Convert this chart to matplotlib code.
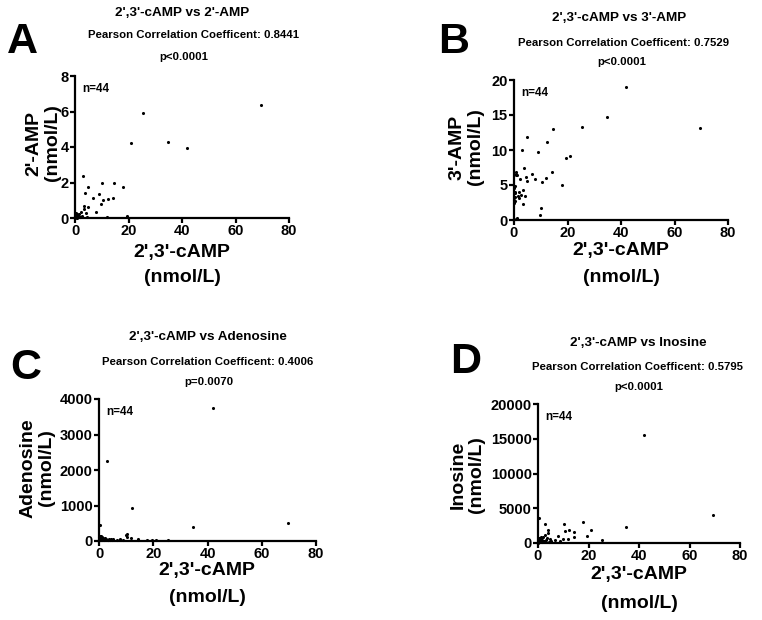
import matplotlib
matplotlib.use("Agg")
import matplotlib.pyplot as plt

plt.rcParams['font.family'] = ['Liberation Sans', 'DejaVu Sans']
plt.rcParams['font.weight'] = 'bold'

# 2',3'-cAMP (nmol/L), same 44 samples in every panel
camp = [69.5, 42.0, 34.8, 25.4, 21.0, 19.5, 17.8, 14.4, 14.2, 12.2, 11.8,
        10.5, 10.2, 9.9, 8.9, 7.8, 6.6, 5.0, 4.7, 4.4, 4.0, 3.8, 3.5, 3.3,
        2.9, 2.6, 2.3, 2.0, 1.7, 1.4, 1.2, 1.0, 0.9, 0.8, 0.7, 0.6, 0.5,
        0.4, 0.3, 0.25, 0.2, 0.15, 0.1, 0.05]

amp2 = [6.35, 3.97, 4.3, 5.9, 4.2, 0.1, 1.74, 1.99, 1.1, 1.06, 0.05,
        1.02, 1.99, 0.78, 1.36, 0.33, 1.1, 0.61, 1.77, 0.05, 0.28, 1.39, 0.52, 0.7,
        2.36, 0.1, 0.32, 0.05, 0.08, 0.2, 0.05, 0.15, 0.1, 0.02, 0.25, 0.05, 0.12,
        0.3, 0.05, 0.18, 0.08, 0.02, 0.1, 0.05]

amp3 = [13.1, 18.95, 14.76, 13.3, 9.1, 8.8, 5.0, 12.95, 6.8, 11.2, 5.95,
        5.5, 1.67, 0.71, 9.7, 5.9, 6.6, 11.8, 5.6, 6.2, 3.4, 7.4, 2.3, 4.3,
        10.0, 3.6, 5.8, 3.2, 4.0, 3.5, 6.5, 0.3, 6.8, 6.6, 0.15, 6.4, 4.9,
        2.7, 3.3, 4.0, 3.8, 2.4, 4.6, 2.9]

adenosine = [510, 3750, 390, 30, 20, 40, 15, 60, 20, 940, 80,
             120, 200, 160, 30, 50, 40, 60, 20, 50, 30, 60, 40, 20,
             2240, 50, 80, 30, 60, 90, 40, 110, 20, 70, 50, 130, 30,
             450, 80, 150, 60, 20, 100, 40]

inosine = [4065, 15550, 2300, 380, 1820, 960, 3015, 810, 1580, 1910, 575,
           1670, 2775, 575, 240, 960, 480, 300, 600, 200, 1910, 1435, 700, 400,
           2775, 1100, 300, 800, 500, 200, 650, 900, 350, 100, 600, 250, 450,
           3590, 150, 700, 300, 50, 500, 200]

panels = [
    # letter, y data, y name, y max, y step, title, r, p
    ("A", amp2, "2'-AMP", 8, 2, "2',3'-cAMP vs 2'-AMP", "0.8441", "p<0.0001"),
    ("B", amp3, "3'-AMP", 20, 5, "2',3'-cAMP vs 3'-AMP", "0.7529", "p<0.0001"),
    ("C", adenosine, "Adenosine", 4000, 1000, "2',3'-cAMP vs Adenosine", "0.4006", "p=0.0070"),
    ("D", inosine, "Inosine", 20000, 5000, "2',3'-cAMP vs Inosine", "0.5795", "p<0.0001"),
]

W, H = 762.0, 620.0

# axes box in pixels: left, top, right, bottom
boxes = [(75, 76, 289, 218), (514, 80, 728, 220), (99, 399, 316, 541), (538, 404, 740, 543)]
# text anchors in pixels
letter_pos = [(7, 22), (438, 22), (10, 348), (450, 342)]
title_y = [(182, 13, 194, 35, 184, 57), (619, 18, 624, 43, 622, 62),
           (208, 337, 208, 362, 209, 382), (638, 343, 638, 367, 639, 387)]
xlab_y = [(182, 253, 277), (621, 251, 277), (207, 570, 598), (639, 575, 604)]
ylab_x = [(43, 143), (466, 147), (37, 468), (467, 475)]


def fx(x):
    return x / W


def fy(y):
    return 1 - y / H


fig = plt.figure(figsize=(W / 100, H / 100), dpi=100)

for i, (letter, ydata, yname, ymax, ystep, title, r, p) in enumerate(panels):
    l, t, rr, b = boxes[i]
    ax = fig.add_axes([fx(l), fy(b), (rr - l) / W, (b - t) / H])
    ax.scatter(camp, ydata, s=5, c='black', linewidths=0, clip_on=False, zorder=3)
    ax.set_xlim(0, 80)
    ax.set_ylim(0, ymax)
    ax.set_xticks([0, 20, 40, 60, 80])
    ax.set_yticks(list(range(0, ymax + 1, ystep)))
    ax.spines['right'].set_visible(False)
    ax.spines['top'].set_visible(False)
    for s in ['left', 'bottom']:
        ax.spines[s].set_linewidth(1.6)
    ax.tick_params(axis='both', direction='out', length=3.5, width=1.6, labelsize=10.5, pad=1)
    for lab in ax.get_xticklabels() + ax.get_yticklabels():
        lab.set_fontweight('bold')
    ax.text(0.035, 0.95, "n=44", transform=ax.transAxes, fontsize=8.5,
            fontweight='bold', ha='left', va='top')

    lx, ly = letter_pos[i]
    fig.text(fx(lx), fy(ly), letter, fontsize=31, fontweight='bold', ha='left', va='top')

    tx, ty, px_, py_, qx, qy = title_y[i]
    fig.text(fx(tx), fy(ty), title, fontsize=9.7, fontweight='bold', ha='center', va='center')
    fig.text(fx(px_), fy(py_), "Pearson Correlation Coefficent: " + r, fontsize=8.2,
             fontweight='bold', ha='center', va='center')
    fig.text(fx(qx), fy(qy), p, fontsize=8.2, fontweight='bold', ha='center', va='center')

    cx, y1, y2 = xlab_y[i]
    fig.text(fx(cx), fy(y1), "2',3'-cAMP", fontsize=14, fontweight='bold', ha='center', va='center')
    fig.text(fx(cx), fy(y2), "(nmol/L)", fontsize=14, fontweight='bold', ha='center', va='center')

    yx, yy = ylab_x[i]
    fig.text(fx(yx), fy(yy), yname + "\n(nmol/L)", fontsize=14, fontweight='bold',
             rotation=90, ha='center', va='center', multialignment='center', linespacing=1.1)

fig.savefig("out.png", dpi=100)
